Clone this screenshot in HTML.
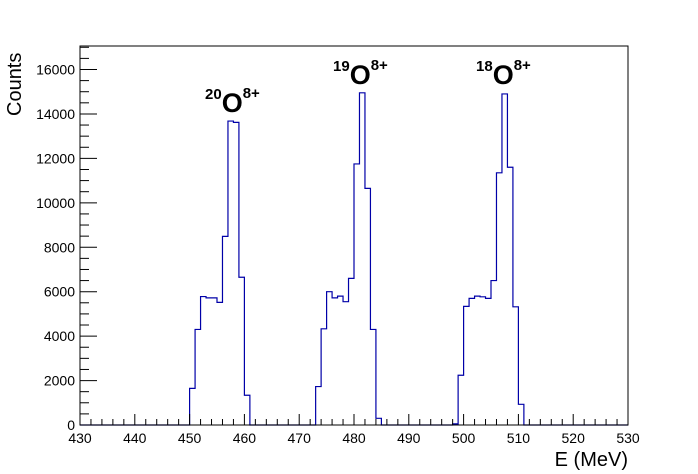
<!DOCTYPE html>
<html><head><meta charset="utf-8"><style>
body{margin:0;background:#fff}
svg{display:block;font-family:"Liberation Sans",Arial,sans-serif}
</style></head><body>
<svg width="698" height="474">
<rect x="0" y="0" width="698" height="474" fill="#fff"/>
<g id="hist"></g>
<rect x="80" y="46" width="548" height="379" fill="none" stroke="#000" stroke-width="1"/>
<g id="axes"></g>
<text x="628" y="466" font-size="20" text-anchor="end">E (MeV)</text>
<text transform="translate(21,116) rotate(-90)" font-size="20" text-anchor="start">Counts</text>
<text x="205" y="112" font-weight="bold"><tspan font-size="15" dy="-13">20</tspan><tspan font-size="27" dy="13">O</tspan><tspan font-size="15" dy="-14">8+</tspan></text>
<text x="333" y="84" font-weight="bold"><tspan font-size="15" dy="-13">19</tspan><tspan font-size="27" dy="13">O</tspan><tspan font-size="15" dy="-14">8+</tspan></text>
<text x="476" y="84" font-weight="bold"><tspan font-size="15" dy="-13">18</tspan><tspan font-size="27" dy="13">O</tspan><tspan font-size="15" dy="-14">8+</tspan></text>
</svg>
<script>
const binStarts=[450,451,452,453,454,455,456,457,458,459,460,
473,474,475,476,477,478,479,480,481,482,483,484,
498,499,500,501,502,503,504,505,506,507,508,509,510];
const counts=[1650,4300,5780,5720,5720,5520,8490,13680,13620,6650,1340,
1730,4330,6000,5720,5800,5550,6600,11750,14950,10650,4300,300,
50,2240,5340,5700,5800,5770,5700,6500,11350,14900,11600,5320,930];
const xTicks=[430,440,450,460,470,480,490,500,510,520,530];
const yTicks=[0,2000,4000,6000,8000,10000,12000,14000,16000];
const xMin=430,xMax=530;
const X=v=>80+(v-xMin)/(xMax-xMin)*548;
const Y=v=>425-v/16000*355.5;
const NS="http://www.w3.org/2000/svg";
const hist=document.getElementById('hist');
const full={};binStarts.forEach((b,i)=>full[b]=counts[i]);
let d="M"+X(xMin)+" "+Y(0);
for(let b=xMin;b<xMax;b++){const c=full[b]||0;d+=" L"+X(b)+" "+Y(c)+" L"+X(b+1)+" "+Y(c);}
const p=document.createElementNS(NS,'path');
p.setAttribute('d',d);p.setAttribute('fill','none');p.setAttribute('stroke','#0000a8');p.setAttribute('stroke-width','1.2');


hist.appendChild(p);
const ax=document.getElementById('axes');
function line(x1,y1,x2,y2){const l=document.createElementNS(NS,'line');l.setAttribute('x1',x1);l.setAttribute('y1',y1);l.setAttribute('x2',x2);l.setAttribute('y2',y2);l.setAttribute('stroke','#000');ax.appendChild(l);return l;}
for(let v=xMin;v<=xMax;v+=2){const maj=(v%10===0);const l=line(X(v),425,X(v),425-(maj?11:6));

}
xTicks.forEach(v=>{const t=document.createElementNS(NS,'text');t.setAttribute('x',X(v));t.setAttribute('y',443);t.setAttribute('font-size','14');t.setAttribute('text-anchor','middle');t.textContent=v;


ax.appendChild(t);});
for(let v=0;v<=17000;v+=500){const y=Y(v);if(y<46)break;const maj=(v%2000===0);const l=line(80,y,80+(maj?17:9),y);

}
yTicks.forEach(v=>{const t=document.createElementNS(NS,'text');t.setAttribute('x',75);t.setAttribute('y',Y(v)+5);t.setAttribute('font-size','14');t.setAttribute('text-anchor','end');t.textContent=v;


ax.appendChild(t);});
</script>
</body></html>
